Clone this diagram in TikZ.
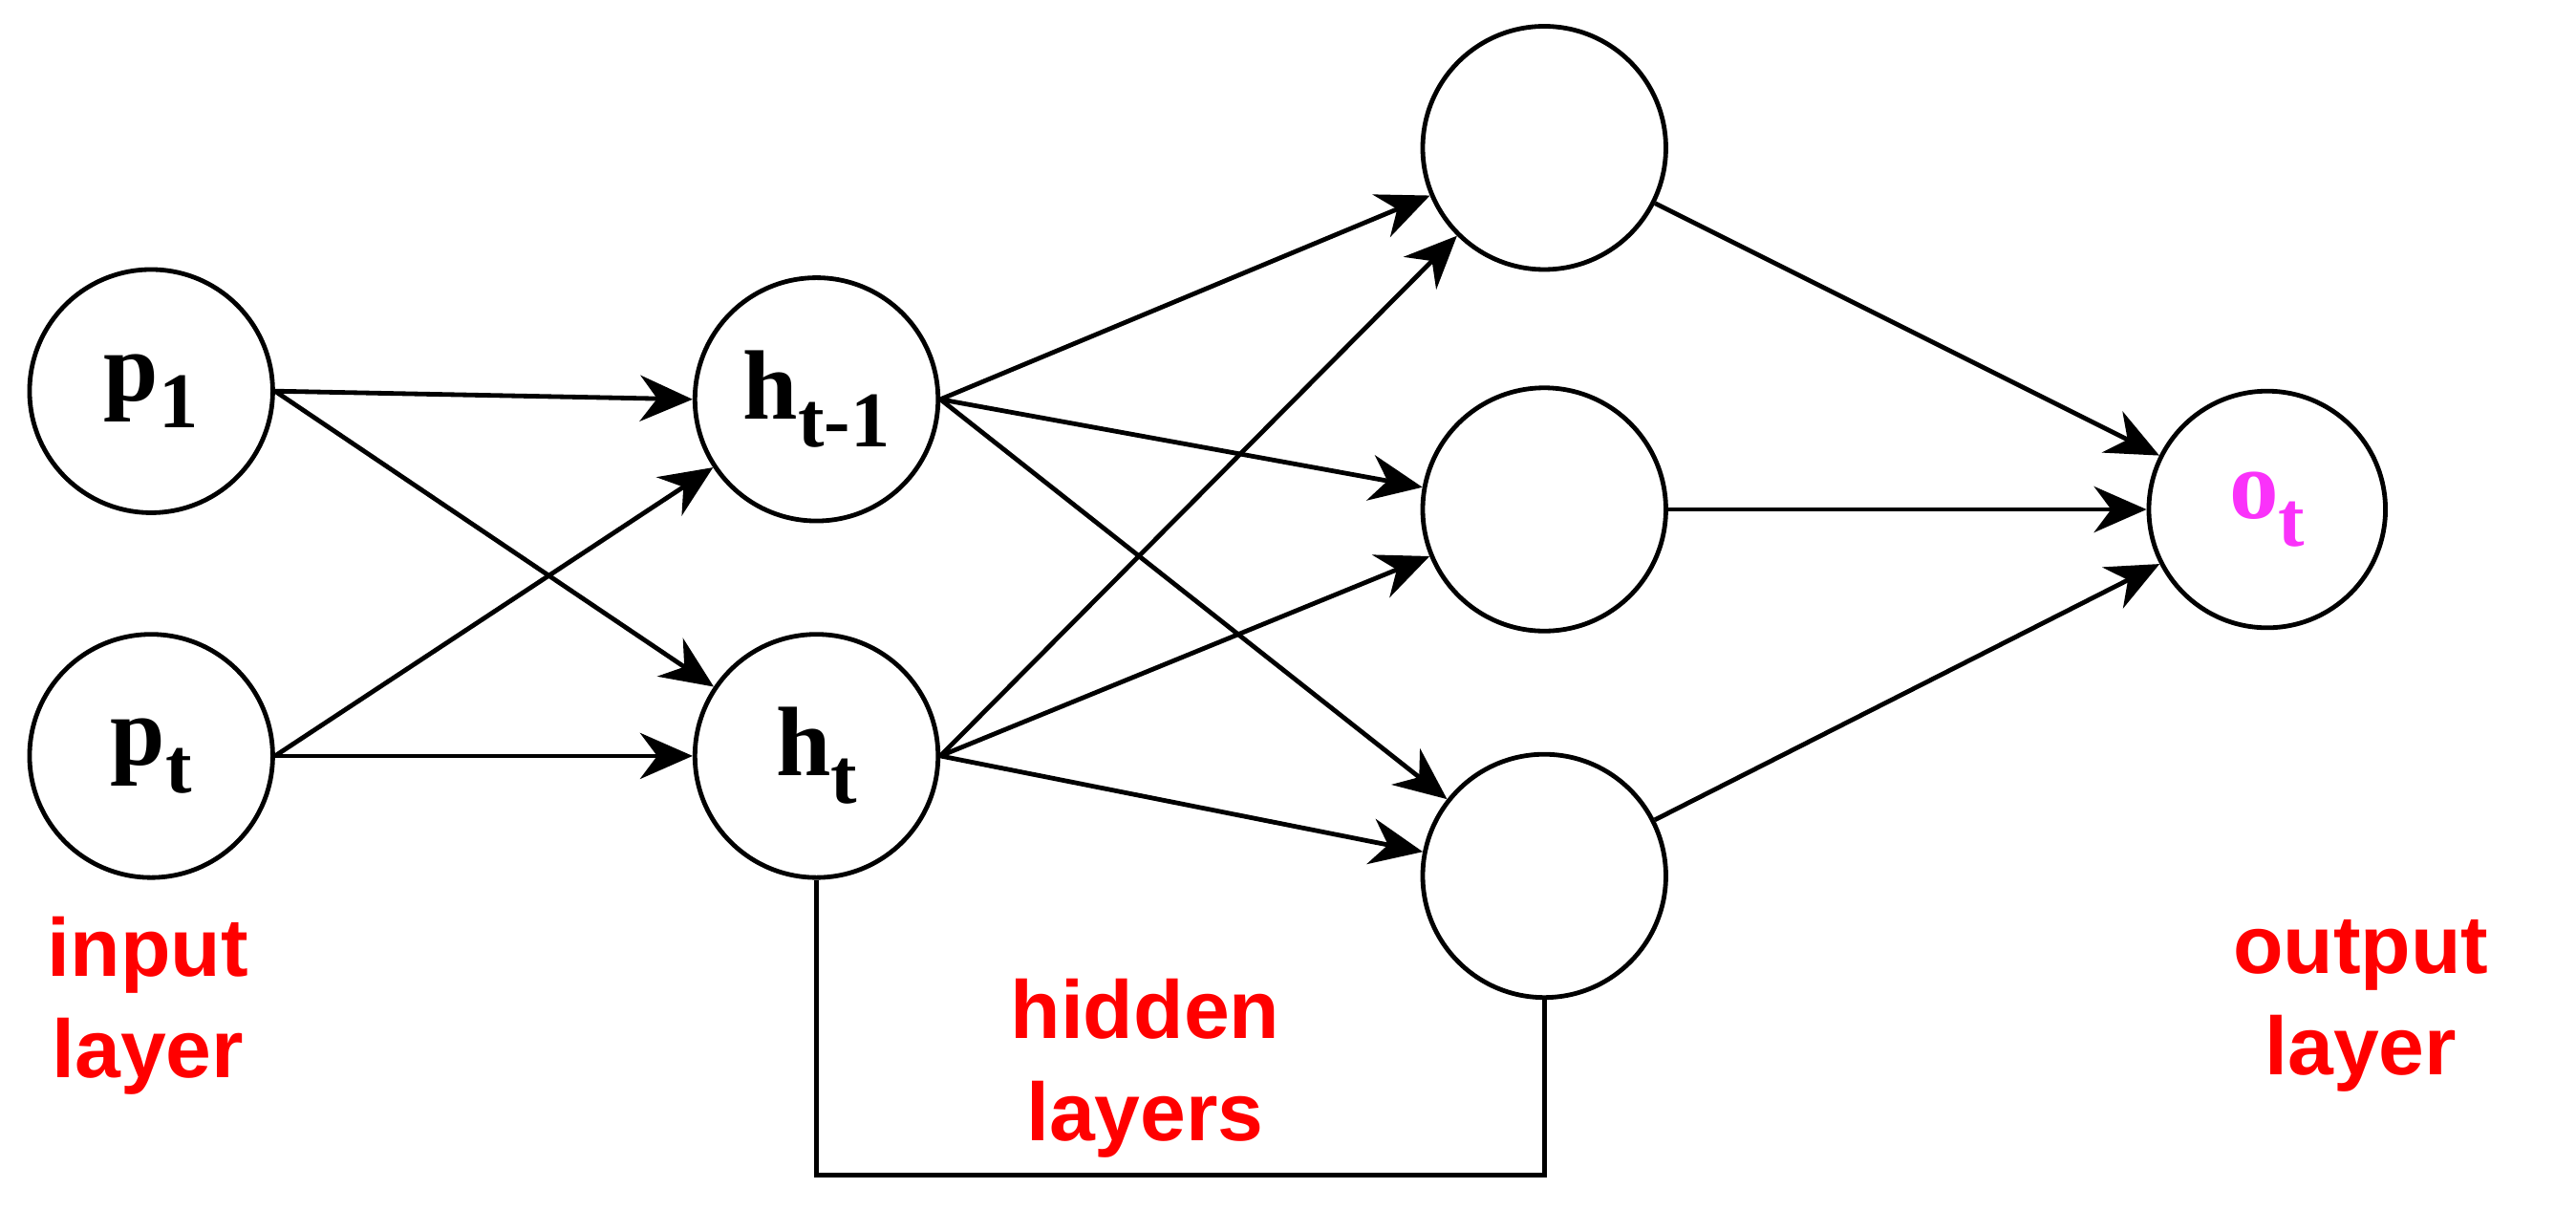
\documentclass[tikz,border=0pt]{standalone}
\usepackage{fontspec}
\setmainfont{Liberation Serif}
\newfontfamily\lab{Liberation Sans}
\usetikzlibrary{arrows.meta}
\definecolor{pinkish}{RGB}{250,50,250}
\newcommand\mysub[1]{\raisebox{-0.28em}{\fontsize{48}{48}\selectfont\bfseries #1}}
\begin{document}
\begin{tikzpicture}[x=1pt,y=-1pt,
  neuron/.style={circle,draw,line width=2.8pt,minimum size=148pt,inner sep=0pt,font=\fontsize{60}{66}\selectfont\bfseries},
  hid/.style={circle,draw,line width=2.8pt,minimum size=148pt,inner sep=0pt},
  arr/.style={line width=2.8pt,-{Stealth[length=32pt,width=28pt]}},
  lbl/.style={text=red,font=\lab\fontsize{50}{62}\selectfont\bfseries,align=center}]
\useasboundingbox (0,0) rectangle (1568,736);
\node[neuron] (p1) at (92,238) {p\mysub{1}};
\node[neuron] (pt) at (92,460) {p\mysub{t}};
\node[neuron] (h1) at (497,243) {h\mysub{t-1}};
\node[neuron] (ht) at (497,460) {h\mysub{t}};
\node[hid] (a) at (940,90) {};
\node[hid] (b) at (940,310) {};
\node[hid] (c) at (940,533) {};
\node[neuron,minimum size=144pt,text=pinkish] (o) at (1380,310) {o\mysub{t}};
\draw[arr] (p1.east) -- (h1.west);
\draw[arr] (p1.east) -- (ht);
\draw[arr] (pt.east) -- (h1);
\draw[arr] (pt.east) -- (ht.west);
\draw[arr] (h1.east) -- (a);
\draw[arr] (h1.east) -- (b);
\draw[arr] (h1.east) -- (c);
\draw[arr] (ht.east) -- (a);
\draw[arr] (ht.east) -- (b);
\draw[arr] (ht.east) -- (c);
\draw[arr] (a) -- (o);
\draw[arr] (b) -- (o);
\draw[arr] (c) -- (o);
\coordinate (q1) at (497,715);
\coordinate (q2) at (940,715);
\draw[line width=2.8pt] (ht.south) -- (q1) -- (q2) -- (c.south);
\node[lbl] (li) at (90,612) {input\\layer};
\node[lbl] (lh) at (697,650) {hidden\\layers};
\node[lbl] (lo) at (1437,612) {output\\layer};
\end{tikzpicture}
\end{document}
